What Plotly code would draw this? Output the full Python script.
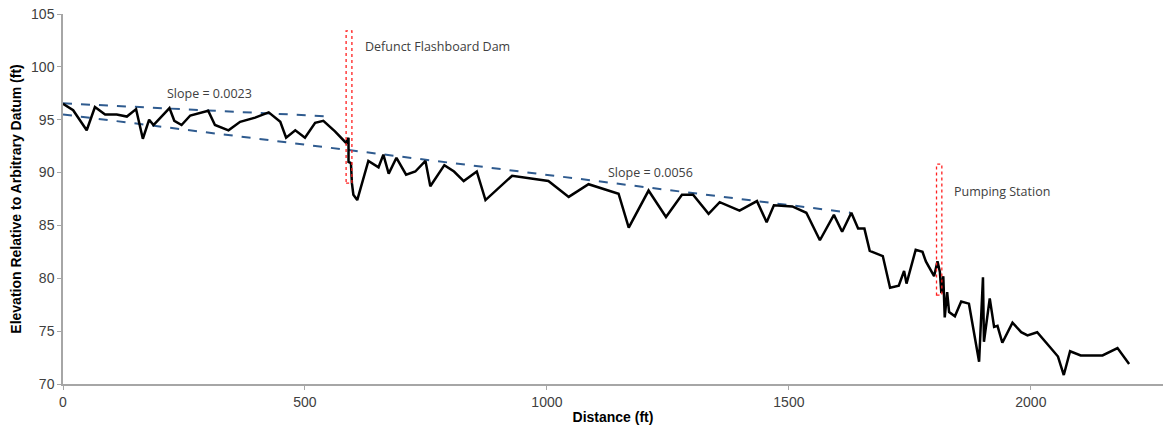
import plotly.graph_objects as go

# Thalweg profile (ft)
distance = [0, 21, 49, 66, 87, 111, 132, 151, 165, 178, 187, 220, 230, 245, 263, 300, 314, 342, 366, 397,
            425, 449, 461, 480, 500, 521, 538, 562, 585, 590, 590, 595, 597, 600, 608, 631, 652, 662, 673, 689,
            709, 728, 749, 759, 788, 808, 828, 855, 873, 928, 1003, 1045, 1086, 1148, 1169, 1210, 1246, 1279, 1302, 1334,
            1357, 1398, 1434, 1454, 1469, 1507, 1536, 1564, 1593, 1610, 1629, 1643, 1656, 1667, 1694, 1709, 1727, 1738, 1743, 1762,
            1776, 1783, 1800, 1807, 1812, 1815, 1819, 1822, 1827, 1831, 1843, 1856, 1872, 1893, 1901, 1903, 1915, 1924, 1931, 1941,
            1962, 1980, 1993, 2013, 2041, 2056, 2068, 2081, 2103, 2148, 2179, 2203]
elevation = [96.5, 95.9, 94.0, 96.2, 95.5, 95.5, 95.3, 96.0, 93.2, 95.0, 94.5, 96.1, 94.9, 94.5, 95.4, 95.85, 94.5, 94.0, 94.8, 95.2,
             95.7, 94.8, 93.3, 94.0, 93.3, 94.7, 94.9, 93.9, 92.8, 93.3, 91.0, 90.9, 89.0, 87.9, 87.4, 91.1, 90.5, 91.7, 89.9, 91.4,
             89.8, 90.1, 91.1, 88.7, 90.7, 90.1, 89.2, 90.1, 87.4, 89.7, 89.2, 87.7, 88.9, 88.0, 84.8, 88.3, 85.8, 87.9, 87.9, 86.1,
             87.2, 86.4, 87.3, 85.3, 86.9, 86.8, 86.2, 83.6, 86.0, 84.4, 86.2, 84.7, 84.7, 82.6, 82.1, 79.1, 79.3, 80.7, 79.5, 82.7,
             82.5, 81.6, 80.2, 81.6, 80.6, 78.6, 80.2, 76.3, 78.7, 76.8, 76.4, 77.8, 77.6, 72.1, 80.1, 74.0, 78.1, 75.4, 75.5, 73.9,
             75.8, 74.9, 74.6, 74.9, 73.4, 72.6, 70.85, 73.1, 72.7, 72.7, 73.4, 71.9]

# Trend lines
upper_trend_x = [0, 556]
upper_trend_y = [96.55, 95.3]
lower_trend_x = [0, 1627]
lower_trend_y = [95.5, 86.2]
slope_labels = ["Slope = 0.0023", "Slope = 0.0056"]
slope_label_x = [303, 1214]
slope_label_y = [97.5, 90.05]

# Structures
structures = ["Defunct Flashboard Dam", "Pumping Station"]
structure_x0 = [585, 1805]
structure_x1 = [597, 1816]
structure_ytop = [103.4, 90.8]
structure_ybot = [89.0, 78.4]
structure_label_x = [620, 1838]
structure_label_y = [101.9, 88.25]

x_ticks = [0, 500, 1000, 1500, 2000]
y_ticks = [70, 75, 80, 85, 90, 95, 100, 105]

fig = go.Figure()
trend_color = "#2f5b8f"
fig.add_trace(go.Scatter(x=upper_trend_x, y=upper_trend_y, mode="lines",
                         line=dict(color=trend_color, width=2, dash="dash"), showlegend=False))
fig.add_trace(go.Scatter(x=lower_trend_x, y=lower_trend_y, mode="lines",
                         line=dict(color=trend_color, width=2, dash="dash"), showlegend=False))
fig.add_trace(go.Scatter(x=distance, y=elevation, mode="lines",
                         line=dict(color="black", width=2.5), showlegend=False))

label_font = dict(family="Open Sans", size=12.5, color="#404040")
for i in range(len(structures)):
    fig.add_shape(type="rect", xref="x", yref="y",
                  x0=structure_x0[i], x1=structure_x1[i], y0=structure_ybot[i], y1=structure_ytop[i],
                  line=dict(color="#ff2020", width=1.3, dash="dot"), fillcolor="rgba(0,0,0,0)", layer="above")
    fig.add_annotation(x=structure_label_x[i], y=structure_label_y[i], text=structures[i], showarrow=False,
                       xanchor="left", yanchor="middle", font=label_font)

for i in range(len(slope_labels)):
    fig.add_annotation(x=slope_label_x[i], y=slope_label_y[i], text=slope_labels[i], showarrow=False,
                       xanchor="center", yanchor="middle", font=label_font)

axis_common = dict(showgrid=False, zeroline=False, showline=True, linecolor="#a6a6a6", linewidth=1.5,
                   ticks="outside", ticklen=4, tickcolor="#a6a6a6", automargin=False,
                   tickfont=dict(family="Liberation Sans, Arial", size=14, color="#404040"))
fig.update_xaxes(range=[0, 2273], tickvals=x_ticks,
                 title=dict(text="<b>Distance (ft)</b>", font=dict(family="Liberation Sans, Arial", size=14, color="black"),
                            standoff=4),
                 **axis_common)
fig.update_yaxes(range=[70, 105], tickvals=y_ticks,
                 title=dict(text="<b>Elevation Relative to Arbitrary Datum (ft)</b>",
                            font=dict(family="Liberation Sans, Arial", size=14, color="black"), standoff=6),
                 **axis_common)

fig.update_layout(width=1167, height=434, margin=dict(l=63, r=4, t=14, b=50),
                  plot_bgcolor="white", paper_bgcolor="white")
fig.write_html("out.html", config={"displayModeBar": False},
               post_script="document.body.style.margin='0px';")
